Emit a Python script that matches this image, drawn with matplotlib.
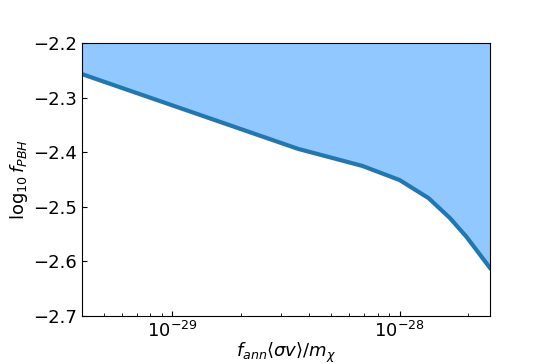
import matplotlib
matplotlib.use("Agg")
import matplotlib.pyplot as plt
import numpy as np

x_vals = [4.0e-30, 3.58e-29, 6.84e-29, 1.0e-28, 1.34e-28, 1.66e-28, 1.97e-28, 2.5e-28]
y_vals = [-2.257, -2.394, -2.425, -2.451, -2.484, -2.520, -2.555, -2.612]
y_top = -2.2
y_ticks = [-2.7, -2.6, -2.5, -2.4, -2.3, -2.2]

fig = plt.figure(figsize=(5.45, 3.63), dpi=100)
ax = fig.add_axes([82/545, 1 - 316/363, (490-82)/545, (316-43)/363])
ax.fill_between(x_vals, y_vals, y_top, color='#90c8ff', lw=0)
ax.plot(x_vals, y_vals, color='#1f77b4', lw=3)
ax.set_xscale('log')
ax.set_xlim(x_vals[0], x_vals[-1])
ax.set_ylim(-2.7, -2.2)
ax.set_yticks(y_ticks)
ax.set_yticklabels([f"{v:.1f}".replace('-', '\u2212') for v in y_ticks])
ax.tick_params(direction='in', labelsize=13, which='both')
ax.set_xlabel(r'$f_{ann}\langle\sigma v\rangle/m_\chi$', fontsize=13, labelpad=0)
ax.set_ylabel(r'$\log_{10}f_{PBH}$', fontsize=13, labelpad=2)
fig.savefig('out.png', dpi=100)
